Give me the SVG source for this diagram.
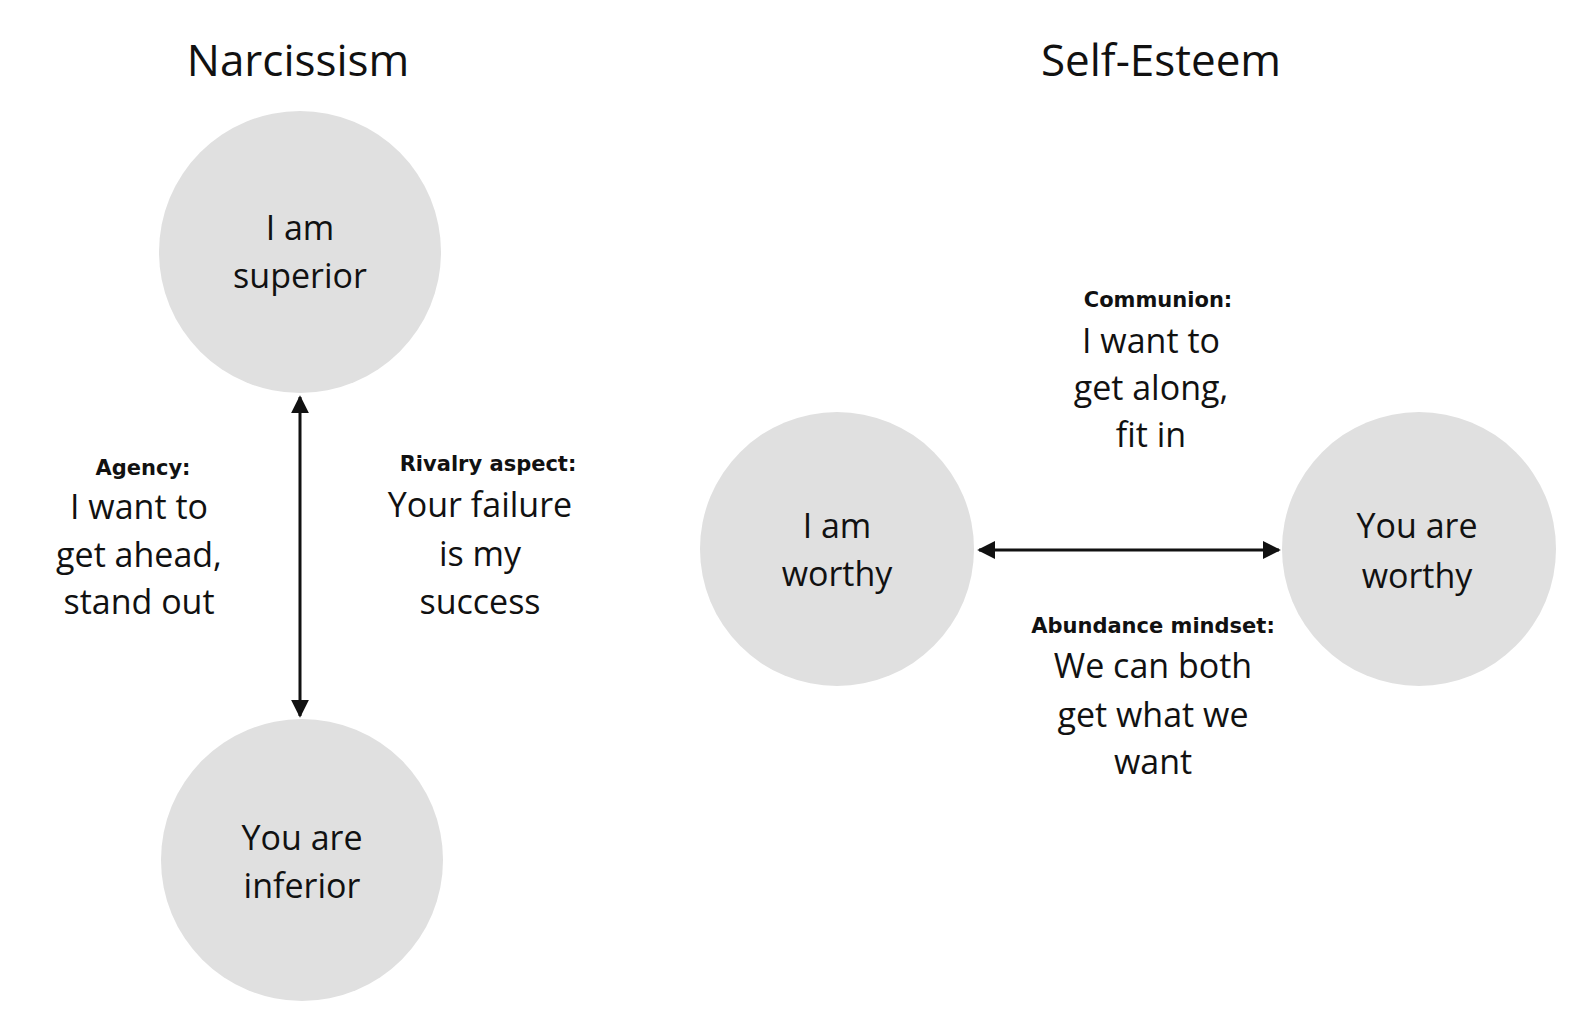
<svg xmlns="http://www.w3.org/2000/svg" width="1587" height="1024" viewBox="0 0 1587 1024">
<style>
.c{fill:#e0e0e0}
.t{font-family:"Open Sans","Noto Sans",sans-serif;font-size:34px;fill:#111;text-anchor:middle}
.h{font-family:"Open Sans","Noto Sans",sans-serif;font-size:44px;fill:#111;text-anchor:middle}
.b{font-family:"DejaVu Sans",sans-serif;font-weight:bold;font-size:21px;fill:#111;text-anchor:middle}
.l{stroke:#111;stroke-width:3;fill:none}
</style>
<defs><marker id="a" viewBox="0 0 10 10" refX="9" refY="5" markerWidth="6" markerHeight="6" orient="auto-start-reverse"><path d="M0,0L10,5L0,10z" fill="#111"/></marker></defs>
<rect width="1587" height="1024" fill="#fff"/>
<text class="h" x="298" y="76">Narcissism</text>
<text class="h" x="1161" y="76">Self-Esteem</text>
<g id="superior"><circle class="c" cx="300" cy="252" r="141"/><text class="t" x="300" y="240">I am</text><text class="t" x="300" y="288">superior</text></g>
<g id="inferior"><circle class="c" cx="302" cy="860" r="141"/><text class="t" x="302" y="850">You are</text><text class="t" x="302" y="898">inferior</text></g>
<g id="worthy1"><circle class="c" cx="837" cy="549" r="137"/><text class="t" x="837" y="538">I am</text><text class="t" x="837" y="586">worthy</text></g>
<g id="worthy2"><circle class="c" cx="1419" cy="549" r="137"/><text class="t" x="1417" y="538">You are</text><text class="t" x="1417" y="588">worthy</text></g>
<g id="connectors">
<line class="l" x1="300" y1="397" x2="300" y2="716" marker-start="url(#a)" marker-end="url(#a)"/>
<line class="l" x1="979" y1="550" x2="1279" y2="550" marker-start="url(#a)" marker-end="url(#a)"/>
</g>
<g id="labels">
<text class="b" x="143" y="475">Agency:</text>
<text class="t" x="139" y="519">I want to</text><text class="t" x="139" y="567">get ahead,</text><text class="t" x="139" y="614">stand out</text>
<text class="b" x="488" y="471">Rivalry aspect:</text>
<text class="t" x="480" y="517">Your failure</text><text class="t" x="480" y="566">is my</text><text class="t" x="480" y="614">success</text>
<text class="b" x="1158" y="307">Communion:</text>
<text class="t" x="1151" y="353">I want to</text><text class="t" x="1151" y="400">get along,</text><text class="t" x="1151" y="447">fit in</text>
<text class="b" x="1153" y="633">Abundance mindset:</text>
<text class="t" x="1153" y="678">We can both</text><text class="t" x="1153" y="727">get what we</text><text class="t" x="1153" y="774">want</text>
</g>
</svg>
